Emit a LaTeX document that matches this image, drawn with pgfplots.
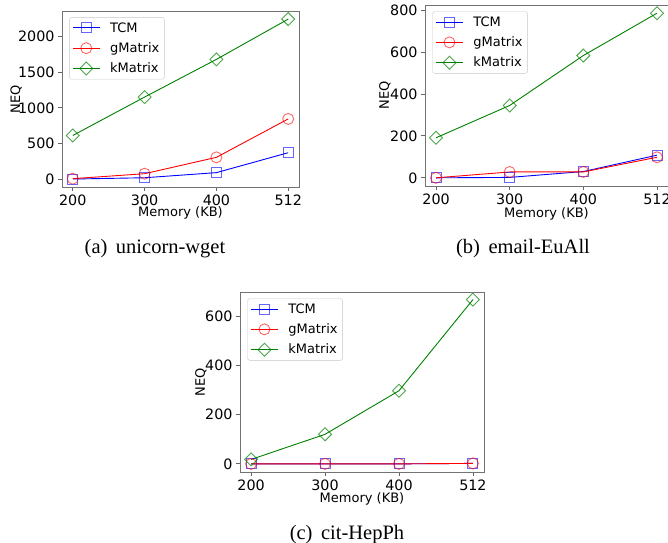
\documentclass[border=0pt]{standalone}
\usepackage{fontspec}
\setmainfont{DejaVu Sans}
\newfontfamily\capfont{Liberation Serif}
\usepackage{pgfplots}
\pgfplotsset{compat=1.18}
\definecolor{mplgreen}{HTML}{008000}
\definecolor{mplblue}{HTML}{0000FF}
\definecolor{mplred}{HTML}{FF0000}
\pgfplotsset{
  myaxis/.style={
    scale only axis,
    anchor=south west,
    xmin=-0.15, xmax=3.15,
    xtick={0,1,2,3}, xticklabels={200,300,400,512},
    tick align=outside, xtick pos=bottom, ytick pos=left,
    major tick length=4pt,
    tick style={black!60, line width=0.8pt},
    axis line style={black!55, line width=0.8pt},
    tick label style={font=\fontsize{14.3}{16}\selectfont},
    label style={font=\fontsize{13}{15}\selectfont},
    /pgf/number format/assume math mode=true,
    /pgf/number format/1000 sep={},
    xlabel={Memory (KB)}, ylabel={NEQ},
    legend style={at={(axis description cs:0.03,0.965)}, anchor=north west,
      draw=black!22, rounded corners=2.5pt, fill=white,
      font=\fontsize{13}{15}\selectfont, inner xsep=3pt, inner ysep=3pt,
      row sep=5pt,
      /tikz/every odd column/.append style={column sep=8pt}},
    legend cell align=left,
    legend image code/.code={\draw[mark repeat=2,mark phase=2,##1] plot coordinates {(0pt,0pt)(13.5pt,0pt)(27pt,0pt)};},
  },
  tcm/.style={mplblue, line width=0.9pt, mark=square, mark size=5pt, mark options={draw opacity=0.6, solid, fill=none}},
  gm/.style={mplred, line width=0.9pt, mark=o, mark size=5.5pt, mark options={draw opacity=0.6, solid, fill=none}},
  km/.style={mplgreen, line width=0.9pt, mark=square, mark size=4.6pt, mark options={rotate=45, draw opacity=0.7, solid, fill=none}},
}
\begin{document}
\begin{tikzpicture}
\useasboundingbox (0pt,0pt) rectangle (668pt,542pt);
% (a)
\begin{axis}[myaxis, at={(62pt,355pt)}, width=237pt, height=176pt,
  ymin=-112, ymax=2362, ytick={0,500,1000,1500,2000},
  xlabel style={at={(axis description cs:0.5,-0.148)}, anchor=center},
  ylabel style={at={(axis description cs:-0.194,0.5)}, anchor=center}]
\addplot[tcm] coordinates {(0,0) (1,18) (2,90) (3,370)};
\addlegendentry{TCM}
\addplot[gm] coordinates {(0,5) (1,75) (2,305) (3,845)};
\addlegendentry{gMatrix}
\addplot[km] coordinates {(0,612) (1,1152) (2,1682) (3,2248)};
\addlegendentry{kMatrix}
\end{axis}
% (b)
\begin{axis}[myaxis, at={(425pt,356pt)}, width=243pt, height=181pt,
  ymin=-39, ymax=824, ytick={0,200,400,600,800},
  xlabel style={at={(axis description cs:0.5,-0.152)}, anchor=center},
  ylabel style={at={(axis description cs:-0.165,0.5)}, anchor=center}]
\addplot[tcm] coordinates {(0,0) (1,2) (2,30) (3,108)};
\addlegendentry{TCM}
\addplot[gm] coordinates {(0,0) (1,28) (2,28) (3,98)};
\addlegendentry{gMatrix}
\addplot[km] coordinates {(0,191) (1,345) (2,583) (3,785)};
\addlegendentry{kMatrix}
\end{axis}
% (c)
\begin{axis}[myaxis, at={(240pt,70pt)}, width=244pt, height=180pt,
  ymin=-33, ymax=698, ytick={0,200,400,600},
  xlabel style={at={(axis description cs:0.5,-0.15)}, anchor=center},
  ylabel style={at={(axis description cs:-0.16,0.5)}, anchor=center}]
\addplot[tcm] coordinates {(0,0) (1,0) (2,0) (3,2)};
\addlegendentry{TCM}
\addplot[gm] coordinates {(0,0) (1,0) (2,0) (3,2)};
\addlegendentry{gMatrix}
\addplot[km] coordinates {(0,18) (1,120) (2,297) (3,667)};
\addlegendentry{kMatrix}
\end{axis}
\node[anchor=base, font=\capfont\fontsize{20.5}{24}\selectfont, inner sep=0pt] at (155pt,289pt) {(a)\, unicorn-wget};
\node[anchor=base, font=\capfont\fontsize{20.5}{24}\selectfont, inner sep=0pt] at (523pt,289pt) {(b)\, email-EuAll};
\node[anchor=base, font=\capfont\fontsize{20.5}{24}\selectfont, inner sep=0pt] at (347pt,3pt) {(c)\, cit-HepPh};
\end{tikzpicture}
\end{document}
